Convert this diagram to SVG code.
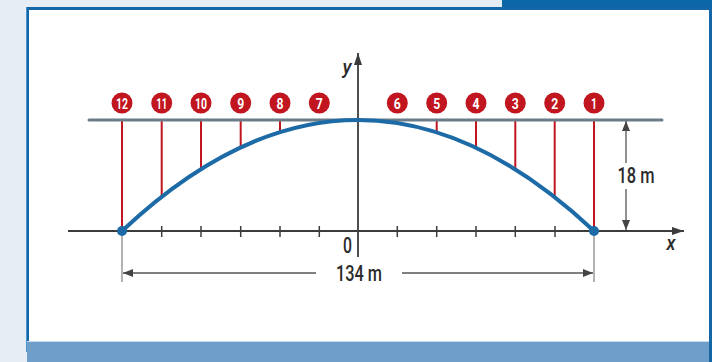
<svg xmlns="http://www.w3.org/2000/svg" width="712" height="362" viewBox="0 0 712 362">
<style>
.lbl{font-family:Roboto,"Liberation Sans",Arial,sans-serif;font-weight:500;fill:#2b2b2b}
.num{font-family:Roboto,"Liberation Sans",Arial,sans-serif;font-weight:bold;font-size:15px;fill:#fff;text-anchor:middle}
.hang{stroke:#c1161f;stroke-width:2}
.tick{stroke:#3c3c3c;stroke-width:1.5}
.dim{stroke:#555;stroke-width:1.3;fill:none}
.ext{stroke:#8a8a8a;stroke-width:1.3}
</style>
<defs>
<marker id="ah" viewBox="0 0 12 8" refX="12" refY="4" markerWidth="12" markerHeight="8" markerUnits="userSpaceOnUse" orient="auto">
<path d="M0,0 L12,4 L0,8 Z" fill="#3c3c3c"/>
</marker>
<marker id="dh" viewBox="0 0 10 8" refX="10" refY="4" markerWidth="10" markerHeight="8" markerUnits="userSpaceOnUse" orient="auto">
<path d="M0,0 L10,4 L0,8 Z" fill="#444"/>
</marker>
</defs>
<!-- background & frame -->
<rect x="0" y="0" width="712" height="362" fill="#e6edf5"/>
<rect x="502" y="0" width="210" height="9" fill="#0b67a6"/>
<rect x="26" y="7" width="686" height="345" fill="#1466a6"/>
<rect x="26" y="7" width="1" height="345" fill="#4a93cf"/>
<rect x="29" y="10" width="681" height="331" fill="#ffffff"/>
<rect x="27" y="341" width="683" height="1" fill="#c8d8e8"/>
<rect x="27" y="342" width="683" height="20" fill="#6e9fcb"/>
<rect x="709" y="7" width="3" height="355" fill="#1466a6"/>

<g id="connectors">
<!-- hangers -->
<line class="hang" x1="122" y1="120" x2="122" y2="231"/>
<line class="hang" x1="161.7" y1="120" x2="161.7" y2="197"/>
<line class="hang" x1="201" y1="120" x2="201" y2="169"/>
<line class="hang" x1="240.7" y1="120" x2="240.7" y2="148"/>
<line class="hang" x1="280" y1="120" x2="280" y2="132"/>
<line class="hang" x1="436.7" y1="120" x2="436.7" y2="132"/>
<line class="hang" x1="476" y1="120" x2="476" y2="148"/>
<line class="hang" x1="515.3" y1="120" x2="515.3" y2="169"/>
<line class="hang" x1="554.7" y1="120" x2="554.7" y2="197"/>
<line class="hang" x1="594" y1="120" x2="594" y2="231"/>
<!-- extension lines -->
<line class="ext" x1="122" y1="231" x2="122" y2="282"/>
<line class="ext" x1="594" y1="231" x2="594" y2="282"/>
<!-- axes -->
<line x1="68" y1="231" x2="684" y2="231" stroke="#3c3c3c" stroke-width="1.8" marker-end="url(#ah)"/>
<line x1="358" y1="257" x2="358" y2="53" stroke="#3c3c3c" stroke-width="1.8" marker-end="url(#ah)"/>
<!-- ticks -->
<line class="tick" x1="161.7" y1="226" x2="161.7" y2="237"/>
<line class="tick" x1="201" y1="226" x2="201" y2="237"/>
<line class="tick" x1="240.7" y1="226" x2="240.7" y2="237"/>
<line class="tick" x1="280" y1="226" x2="280" y2="237"/>
<line class="tick" x1="319.3" y1="226" x2="319.3" y2="237"/>
<line class="tick" x1="397.3" y1="226" x2="397.3" y2="237"/>
<line class="tick" x1="436.7" y1="226" x2="436.7" y2="237"/>
<line class="tick" x1="476" y1="226" x2="476" y2="237"/>
<line class="tick" x1="515.3" y1="226" x2="515.3" y2="237"/>
<line class="tick" x1="555" y1="226" x2="555" y2="237"/>
<!-- deck -->
<line x1="89" y1="120" x2="662" y2="120" stroke="#6b7c89" stroke-width="3" stroke-linecap="round"/>
<!-- arch -->
<path d="M122,231 Q358,9 594,231" fill="none" stroke="#1c6aa6" stroke-width="4"/>
<circle cx="122" cy="231" r="5" fill="#1c6aa6"/>
<circle cx="594" cy="231" r="5" fill="#1c6aa6"/>
<!-- 18 m dimension -->
<line class="dim" x1="626" y1="163" x2="626" y2="121" marker-end="url(#dh)"/>
<line class="dim" x1="626" y1="189" x2="626" y2="230" marker-end="url(#dh)"/>
<!-- 134 m dimension -->
<line class="dim" x1="316" y1="273" x2="123" y2="273" marker-end="url(#dh)"/>
<line class="dim" x1="402" y1="273" x2="593" y2="273" marker-end="url(#dh)"/>
</g>

<g id="labels">
<text class="lbl" x="636" y="183" font-size="22" text-anchor="middle" textLength="37" lengthAdjust="spacingAndGlyphs">18 m</text>
<text class="lbl" x="359" y="281" font-size="22" text-anchor="middle" textLength="46" lengthAdjust="spacingAndGlyphs">134 m</text>
<text class="lbl" x="347.5" y="253" font-size="22" text-anchor="middle" textLength="9" lengthAdjust="spacingAndGlyphs">0</text>
<text class="lbl" x="671" y="250" font-size="20" font-style="italic" text-anchor="middle" textLength="9" lengthAdjust="spacingAndGlyphs">x</text>
<text class="lbl" x="347" y="74" font-size="20" font-style="italic" text-anchor="middle" textLength="9" lengthAdjust="spacingAndGlyphs">y</text>
</g>

<g id="n12"><circle cx="122" cy="103" r="10.5" fill="#c1161f"/><text class="num" x="122" y="108.5" textLength="12" lengthAdjust="spacingAndGlyphs">12</text></g>
<g id="n11"><circle cx="161.7" cy="103" r="10.5" fill="#c1161f"/><text class="num" x="161.7" y="108.5" textLength="11" lengthAdjust="spacingAndGlyphs">11</text></g>
<g id="n10"><circle cx="201" cy="103" r="10.5" fill="#c1161f"/><text class="num" x="201" y="108.5" textLength="12" lengthAdjust="spacingAndGlyphs">10</text></g>
<g id="n9"><circle cx="240.7" cy="103" r="10.5" fill="#c1161f"/><text class="num" x="240.7" y="108.5" textLength="7" lengthAdjust="spacingAndGlyphs">9</text></g>
<g id="n8"><circle cx="280" cy="103" r="10.5" fill="#c1161f"/><text class="num" x="280" y="108.5" textLength="7" lengthAdjust="spacingAndGlyphs">8</text></g>
<g id="n7"><circle cx="319.3" cy="103" r="10.5" fill="#c1161f"/><text class="num" x="319.3" y="108.5" textLength="7" lengthAdjust="spacingAndGlyphs">7</text></g>
<g id="n6"><circle cx="397.3" cy="103" r="10.5" fill="#c1161f"/><text class="num" x="397.3" y="108.5" textLength="7" lengthAdjust="spacingAndGlyphs">6</text></g>
<g id="n5"><circle cx="436.7" cy="103" r="10.5" fill="#c1161f"/><text class="num" x="436.7" y="108.5" textLength="7" lengthAdjust="spacingAndGlyphs">5</text></g>
<g id="n4"><circle cx="476" cy="103" r="10.5" fill="#c1161f"/><text class="num" x="476" y="108.5" textLength="7" lengthAdjust="spacingAndGlyphs">4</text></g>
<g id="n3"><circle cx="515.3" cy="103" r="10.5" fill="#c1161f"/><text class="num" x="515.3" y="108.5" textLength="7" lengthAdjust="spacingAndGlyphs">3</text></g>
<g id="n2"><circle cx="554.7" cy="103" r="10.5" fill="#c1161f"/><text class="num" x="554.7" y="108.5" textLength="7" lengthAdjust="spacingAndGlyphs">2</text></g>
<g id="n1"><circle cx="594" cy="103" r="10.5" fill="#c1161f"/><text class="num" x="594" y="108.5" textLength="6" lengthAdjust="spacingAndGlyphs">1</text></g>
</svg>
